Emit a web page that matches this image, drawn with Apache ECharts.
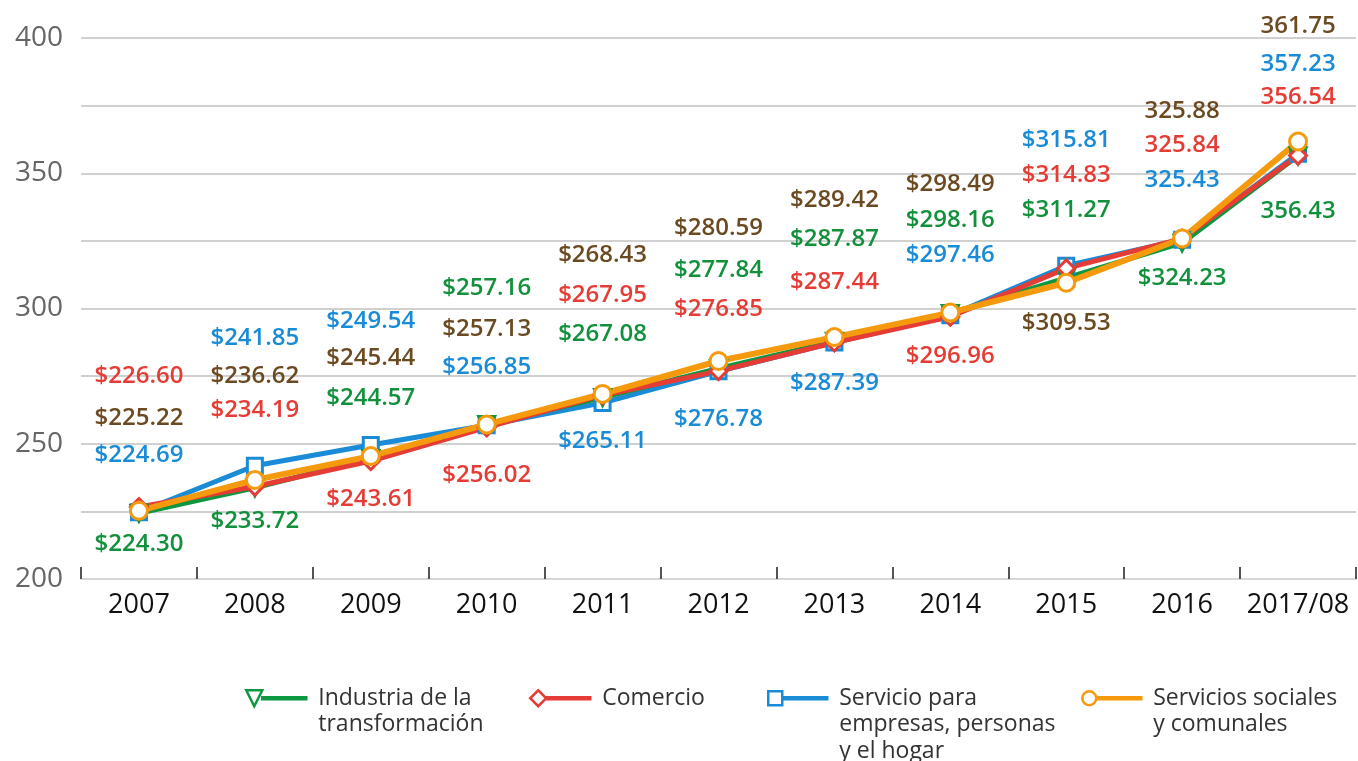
<!DOCTYPE html>
<html>
<head>
<meta charset="utf-8">
<script src="https://cdn.jsdelivr.net/npm/echarts@6/dist/echarts.min.js"></script>
<style>
html,body{margin:0;padding:0;background:#fff;}
#chart{width:1358px;height:761px;}
</style>
</head>
<body>
<div id="chart"></div>
<script>
const categories = ['2007','2008','2009','2010','2011','2012','2013','2014','2015','2016','2017/08'];
const yTicks = [200, 250, 300, 350, 400];

const industria = [224.30, 233.72, 244.57, 257.16, 267.08, 277.84, 287.87, 298.16, 311.27, 324.23, 356.43];
const comercio  = [226.60, 234.19, 243.61, 256.02, 267.95, 276.85, 287.44, 296.96, 314.83, 325.84, 356.54];
const servicio  = [224.69, 241.85, 249.54, 256.85, 265.11, 276.78, 287.39, 297.46, 315.81, 325.43, 357.23];
const sociales  = [225.22, 236.62, 245.44, 257.13, 268.43, 280.59, 289.42, 298.49, 309.53, 325.88, 361.75];

// indexes of labels printed without the "$" sign
const noDollarIndustria = [10];
const noDollarComercio  = [9, 10];
const noDollarServicio  = [9, 10];
const noDollarSociales  = [9, 10];

// label vertical offsets (px, style only)
const dyIndustria = [31, 33, -60, -136, -63, -98, -102, -93, -68, 35, 55];
const dyComercio  = [-131, -76, 38, 48, -100, -62, -60, 39, -93, -93, -58];
const dyServicio  = [-57, -128, -124, -58, 38, 48, 41, -60, -126, -60, -90];
const dySociales  = [-93, -104, -98, -95, -139, -133, -137, -128, 40, -127, -115];

const FONT = "'Open Sans', 'DejaVu Sans', sans-serif";

// legend icons: marker on the left end of a short line (67 x 16 box, visible part 0..60)
const LINE = ' M16,7 L60,7 L60,9 L16,9 Z M67,8 L67,8';
const iconTriangle = 'path://M0,0 L16,0 L8,16 Z' + LINE;
const iconDiamond  = 'path://M0,8 L8,0 L16,8 L8,16 Z' + LINE;
const iconRect     = 'path://M1,1 L15,1 L15,15 L1,15 Z M0,0 L0,0' + LINE + ' M0,16 L0,16';
const iconCircle   = 'path://M1,8 A7,7 0 1 1 15,8 A7,7 0 1 1 1,8 Z M0,0 L0,0' + LINE + ' M0,16 L0,16';

function makeSeries(name, values, noDollar, dy, lineColor, labelColor, symbol, rotate, width, symSize) {
  return {
    name: name,
    type: 'line',
    symbol: symbol,
    symbolRotate: rotate,
    symbolSize: symSize,
    lineStyle: { color: lineColor, width: width },
    itemStyle: { color: '#fff', borderColor: lineColor, borderWidth: 3 },
    emphasis: { disabled: true },
    data: values.map((v, i) => ({
      value: v,
      label: { offset: [0, dy[i]] }
    })),
    label: {
      show: true,
      position: 'inside',
      color: labelColor,
      fontFamily: FONT,
      fontWeight: 600,
      fontSize: 24,
      formatter: p => (noDollar.indexOf(p.dataIndex) >= 0 ? '' : '$') + p.value.toFixed(2)
    },
    z: 2
  };
}

const names = ['Industria de la transformación', 'Comercio', 'Servicio para empresas, personas y el hogar', 'Servicios sociales y comunales'];
const legendText = {
  'Industria de la transformación': ['Industria de la', 'transformación'],
  'Comercio': ['Comercio'],
  'Servicio para empresas, personas y el hogar': ['Servicio para', 'empresas, personas', 'y el hogar'],
  'Servicios sociales y comunales': ['Servicios sociales', 'y comunales']
};
const legendIcons = [iconTriangle, iconDiamond, iconRect, iconCircle];
const legendColors = ['#0e9640', '#e63c36', '#1a8bd6', '#f59a0c'];
const legendLeft = [245, 529, 766, 1080];
const LH = 26.5;

// blank lines before the text keep the icon level with the first line
function legendLabel(nm) {
  const lines = legendText[nm];
  const pad = [];
  for (let k = 1; k < lines.length; k++) pad.push(' ');
  return pad.concat(lines).join('\n');
}

const chart = echarts.init(document.getElementById('chart'));
const option = {
  animation: false,
  backgroundColor: '#fff',
  grid: { left: 81, right: 2, top: 38, bottom: 182, containLabel: false },
  legend: names.map((n, i) => ({
    data: [{ name: n, icon: legendIcons[i] }],
    left: legendLeft[i],
    top: 685 - LH * (legendText[n].length - 1),
    padding: 0,
    itemWidth: 67,
    itemHeight: 16,
    itemGap: 12,
    selectedMode: false,
    symbolKeepAspect: true,
    itemStyle: { color: '#fff', borderColor: legendColors[i], borderWidth: 2.5 },
    formatter: legendLabel,
    textStyle: { fontFamily: FONT, fontSize: 23, color: '#333', lineHeight: LH, fontWeight: 500 }
  })),
  xAxis: {
    type: 'category',
    data: categories,
    boundaryGap: true,
    axisLine: { show: true, lineStyle: { color: '#d6d6d6', width: 2 } },
    axisTick: { show: true, inside: true, interval: 0, length: 12, lineStyle: { color: '#555', width: 2 } },
    axisLabel: { interval: 0, color: '#111', fontFamily: FONT, fontSize: 27, fontWeight: 500, margin: 13 }
  },
  yAxis: {
    type: 'value',
    min: 200,
    max: 400,
    interval: 25,
    axisLine: { show: false },
    axisTick: { show: false },
    splitLine: { lineStyle: { color: '#d0d0d0', width: 2 } },
    axisLabel: {
      color: '#666', fontFamily: FONT, fontSize: 28, margin: 18,
      formatter: v => (yTicks.indexOf(v) >= 0 ? String(v) : '')
    }
  },
  series: [
    makeSeries(names[2], servicio, noDollarServicio, dyServicio, '#1a8bd6', '#1a8bd6', 'rect', 0, 5, 15),
    makeSeries(names[0], industria, noDollarIndustria, dyIndustria, '#0e9640', '#12903b', 'triangle', 180, 5, 16),
    makeSeries(names[1], comercio, noDollarComercio, dyComercio, '#e63c36', '#e63c36', 'diamond', 0, 5, 17),
    makeSeries(names[3], sociales, noDollarSociales, dySociales, '#f59a0c', '#6b4a21', 'circle', 0, 6, 17)
  ]
};
chart.setOption(option);
</script>
</body>
</html>
